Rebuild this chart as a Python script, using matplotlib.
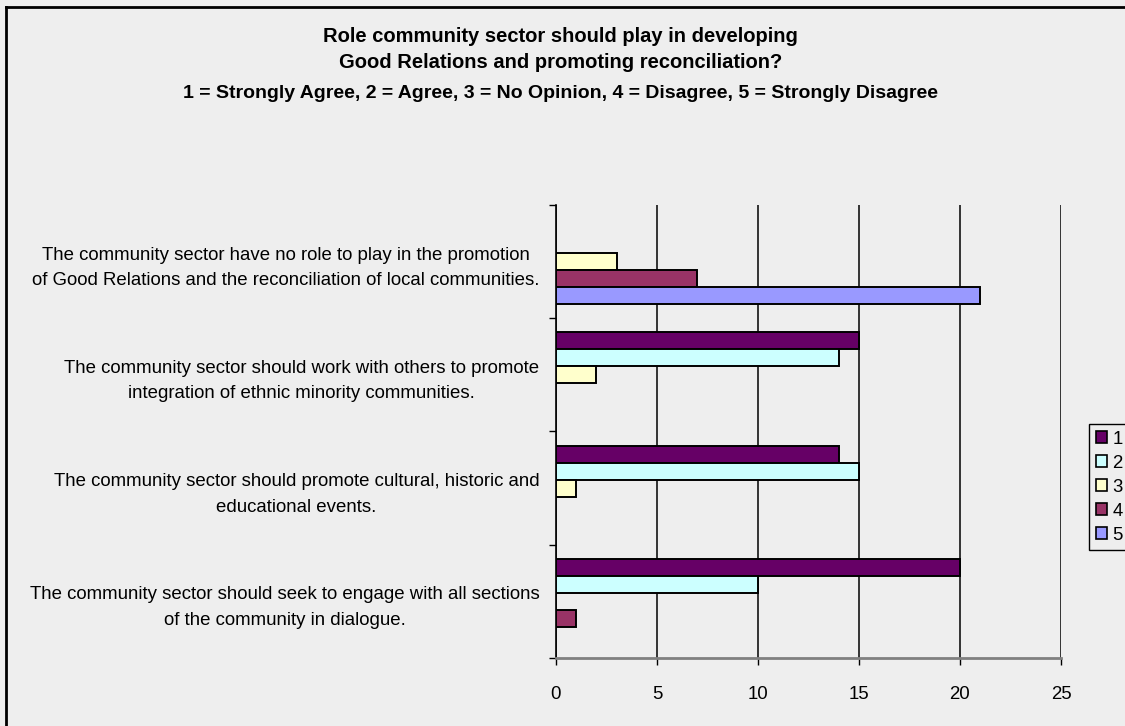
import matplotlib
matplotlib.use('Agg')
import matplotlib.pyplot as plt
from matplotlib.lines import Line2D
from matplotlib.patches import Patch
import numpy as np

plt.rcParams['font.family'] = ['Liberation Sans', 'DejaVu Sans']

categories = [
    'The community sector have no role to play in the promotion\n'
    'of Good Relations and the reconciliation of local communities.',
    'The community sector should work with others to promote\n'
    'integration of ethnic minority communities.',
    'The community sector should promote cultural, historic and\n'
    'educational events.',
    'The community sector should seek to engage with all sections\n'
    'of the community in dialogue.',
]
series_names = ['1', '2', '3', '4', '5']
strongly_agree = [0, 15, 14, 20]
agree = [0, 14, 15, 10]
no_opinion = [3, 2, 1, 0]
disagree = [7, 0, 0, 1]
strongly_disagree = [21, 0, 0, 0]
series = [strongly_agree, agree, no_opinion, disagree, strongly_disagree]
colors = ['#660066', '#ccffff', '#ffffcc', '#993366', '#9999ff']

bg = '#eeeeee'
fs = 13.4
fig = plt.figure(figsize=(11.25, 7.26), dpi=100, facecolor=bg)
ax = fig.add_axes([0.4942, 0.0937, 0.4489, 0.624])
ax.set_facecolor(bg)

y = np.arange(len(categories))
h = 0.15
for i, (vals, col) in enumerate(zip(series, colors)):
    vals = np.array(vals)
    edges = ['black' if v > 0 else 'none' for v in vals]
    ax.barh(y + (i - 2) * h, vals, height=h, color=col, edgecolor=edges,
            linewidth=1.4, zorder=3)

ax.set_xlim(0, 25)
ax.set_ylim(3.5, -0.5)
ax.set_xticks(range(0, 26, 5))
ax.grid(axis='x', color='black', linewidth=1.1, zorder=1)

ax.set_yticks(y)
ax.set_yticklabels(categories, multialignment='center', fontsize=fs, linespacing=1.65)
ax.tick_params(axis='y', length=0, pad=12)
ax.set_yticks(np.arange(-0.5, 4, 1), minor=True)
ax.tick_params(axis='y', which='minor', length=5, width=1, color='black', direction='out')
ax.tick_params(axis='x', length=5, width=1, pad=15, labelsize=fs)

for s in ['top', 'right']:
    ax.spines[s].set_visible(False)
ax.spines['left'].set_color('black')
ax.spines['left'].set_linewidth(1.2)
ax.spines['bottom'].set_color('#808080')
ax.spines['bottom'].set_linewidth(2)

fig.text(0.498, 1 - 36 / 726, 'Role community sector should play in developing',
         ha='center', va='center', fontsize=14.5, fontweight='bold')
fig.text(0.498, 1 - 63 / 726, 'Good Relations and promoting reconciliation?',
         ha='center', va='center', fontsize=14.5, fontweight='bold')
fig.text(0.498, 1 - 93 / 726,
         '1 = Strongly Agree, 2 = Agree, 3 = No Opinion, 4 = Disagree, 5 = Strongly Disagree',
         ha='center', va='center', fontsize=14, fontweight='bold')

handles = [Patch(facecolor=c, edgecolor='black', linewidth=1.2) for c in colors]
leg = fig.legend(handles, series_names, loc='upper left',
                 bbox_to_anchor=(1089 / 1125, 1 - 424 / 726), borderaxespad=0,
                 fontsize=fs, frameon=True, fancybox=False, edgecolor='black',
                 facecolor=bg, framealpha=1, handlelength=0.6, handleheight=0.6,
                 handletextpad=0.3, labelspacing=0.38, borderpad=0.35)
leg.get_frame().set_linewidth(1)

# chart border (only left and top edges visible in the crop)
fig.add_artist(Line2D([6 / 1125, 6 / 1125], [0, 1 - 7 / 726], color='black', linewidth=2))
fig.add_artist(Line2D([6 / 1125, 1], [1 - 7 / 726, 1 - 7 / 726], color='black', linewidth=2))

fig.savefig('out.png', dpi=100, facecolor=bg)
